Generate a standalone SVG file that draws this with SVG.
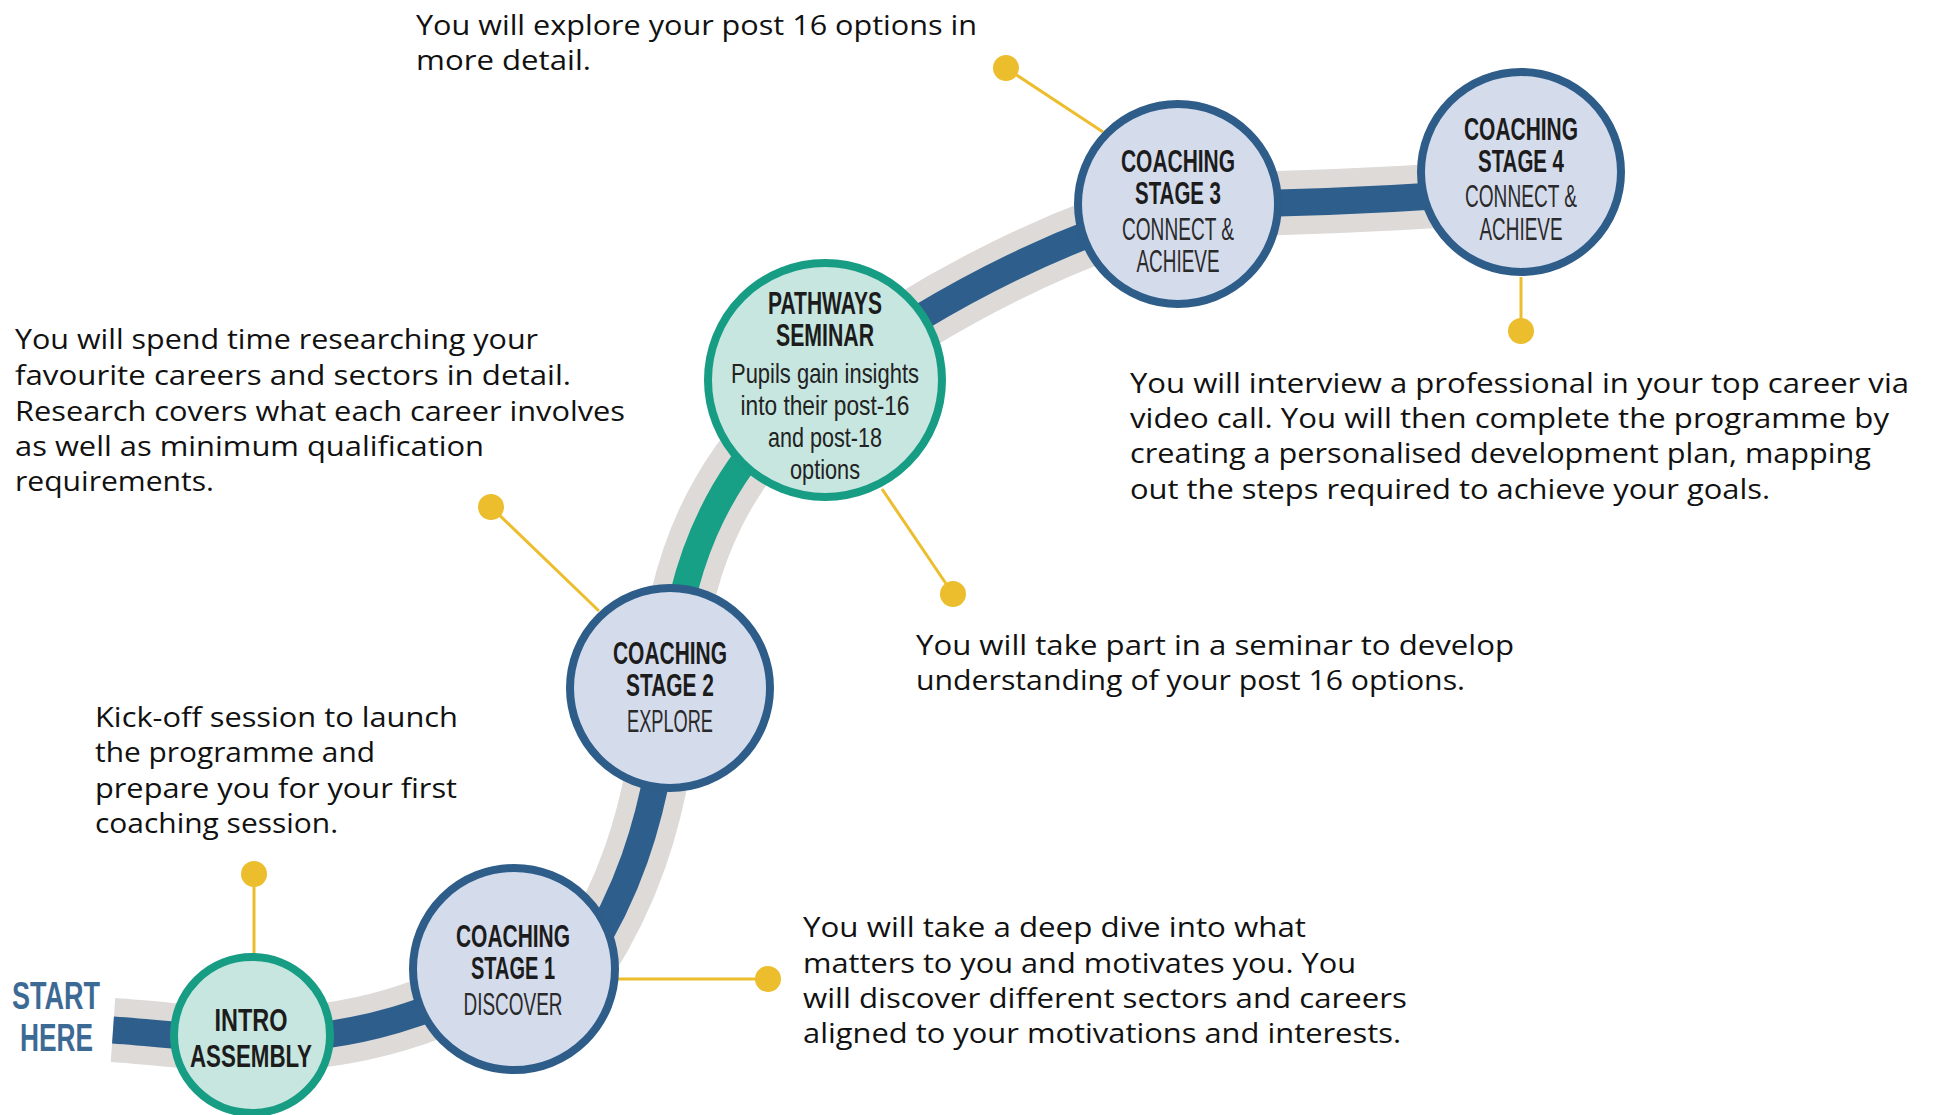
<svg xmlns="http://www.w3.org/2000/svg" width="1936" height="1115" viewBox="0 0 1936 1115">
<style>
.desc{font-family:"Open Sans","Liberation Sans",sans-serif;font-size:27.5px;fill:#111;}
.bold{font-family:"Liberation Sans","DejaVu Sans",sans-serif;font-weight:bold;font-size:31px;fill:#1c1c1c;text-anchor:middle;}
.reg{font-family:"Liberation Sans","DejaVu Sans",sans-serif;font-size:31px;fill:#2a2a2a;text-anchor:middle;}
.small{font-family:"Liberation Sans","DejaVu Sans",sans-serif;font-size:28px;fill:#222;text-anchor:middle;}
.start{font-family:"Liberation Sans","DejaVu Sans",sans-serif;font-weight:bold;font-size:38px;fill:#3d6a95;}
.coach{fill:#d4dbeb;stroke:#2e5d8a;stroke-width:8;}
.teal{fill:#c6e6df;stroke:#189d85;stroke-width:8;}
.lead{stroke:#ecbd2d;stroke-width:3;fill:none;}
.dot{fill:#ecbd2d;}
.road{fill:none;stroke:#dddad8;stroke-width:64;}
.lane{fill:none;stroke:#2d5e8c;stroke-width:27;}
.lane-teal{fill:none;stroke:#17a085;stroke-width:27;}
</style>
<rect width="1936" height="1115" fill="#ffffff"/>
<g id="connectors">
<path class="road" d="M113 1030 C170 1034 210 1040 252 1040 C360 1040 440 1010 514 969"/>
<path class="road" d="M585 960 C620 905 655 830 668 700"/>
<path class="road" d="M670 688 C675 590 705 470 825 380 C930 305 1050 240 1178 204"/>
<path class="road" d="M1178 205 C1300 204 1420 198 1521 190"/>
<path class="lane" d="M113 1030 C170 1034 210 1040 252 1040 C360 1040 440 1010 514 969"/>
<path class="lane" d="M585 960 C620 905 655 830 668 700"/>
<path class="lane" d="M825 380 C930 305 1050 240 1178 204"/>
<path class="lane" d="M1178 205 C1300 204 1420 198 1521 190"/>
<path class="lane-teal" d="M670 688 C675 590 705 470 825 380"/>
<line class="lead" x1="254" y1="874" x2="254" y2="955"/>
<circle class="dot" cx="254" cy="874" r="13"/>
<line class="lead" x1="617" y1="979" x2="768" y2="979"/>
<circle class="dot" cx="768" cy="979" r="13"/>
<line class="lead" x1="599" y1="611" x2="491" y2="507"/>
<circle class="dot" cx="491" cy="507" r="13"/>
<line class="lead" x1="882" y1="489" x2="953" y2="594"/>
<circle class="dot" cx="953" cy="594" r="13"/>
<line class="lead" x1="1103" y1="132" x2="1006" y2="68"/>
<circle class="dot" cx="1006" cy="68" r="13"/>
<line class="lead" x1="1521" y1="277" x2="1521" y2="331"/>
<circle class="dot" cx="1521" cy="331" r="13"/>
</g>
<g id="start-here">
<text class="start" x="12" y="1009" textLength="88" lengthAdjust="spacingAndGlyphs">START</text>
<text class="start" x="20" y="1051" textLength="73" lengthAdjust="spacingAndGlyphs">HERE</text>
</g>
<g id="intro">
<circle class="teal" cx="252" cy="1035" r="78"/>
<text class="bold" x="251" y="1031" font-size="34" textLength="73" lengthAdjust="spacingAndGlyphs">INTRO</text>
<text class="bold" x="251" y="1067" font-size="34" textLength="122" lengthAdjust="spacingAndGlyphs">ASSEMBLY</text>
</g>
<g id="stage1">
<circle class="coach" cx="514" cy="969" r="101"/>
<text class="bold" x="513" y="947" textLength="114" lengthAdjust="spacingAndGlyphs">COACHING</text>
<text class="bold" x="513" y="979" textLength="84" lengthAdjust="spacingAndGlyphs">STAGE 1</text>
<text class="reg" x="513" y="1015" textLength="99" lengthAdjust="spacingAndGlyphs">DISCOVER</text>
</g>
<g id="stage2">
<circle class="coach" cx="670" cy="688" r="100"/>
<text class="bold" x="670" y="664" textLength="114" lengthAdjust="spacingAndGlyphs">COACHING</text>
<text class="bold" x="670" y="696" textLength="88" lengthAdjust="spacingAndGlyphs">STAGE 2</text>
<text class="reg" x="670" y="732" textLength="86" lengthAdjust="spacingAndGlyphs">EXPLORE</text>
</g>
<g id="pathways">
<circle class="teal" cx="825" cy="380" r="117"/>
<text class="bold" x="825" y="314" textLength="114" lengthAdjust="spacingAndGlyphs">PATHWAYS</text>
<text class="bold" x="825" y="346" textLength="98" lengthAdjust="spacingAndGlyphs">SEMINAR</text>
<text class="small" x="825" y="383" textLength="188" lengthAdjust="spacingAndGlyphs">Pupils gain insights</text>
<text class="small" x="825" y="415" textLength="169" lengthAdjust="spacingAndGlyphs">into their post-16</text>
<text class="small" x="825" y="447" textLength="114" lengthAdjust="spacingAndGlyphs">and post-18</text>
<text class="small" x="825" y="479" textLength="70" lengthAdjust="spacingAndGlyphs">options</text>
</g>
<g id="stage3">
<circle class="coach" cx="1178" cy="204" r="100"/>
<text class="bold" x="1178" y="172" textLength="114" lengthAdjust="spacingAndGlyphs">COACHING</text>
<text class="bold" x="1178" y="204" textLength="86" lengthAdjust="spacingAndGlyphs">STAGE 3</text>
<text class="reg" x="1178" y="240" textLength="112" lengthAdjust="spacingAndGlyphs">CONNECT &amp;</text>
<text class="reg" x="1178" y="272" textLength="83" lengthAdjust="spacingAndGlyphs">ACHIEVE</text>
</g>
<g id="stage4">
<circle class="coach" cx="1521" cy="172" r="100"/>
<text class="bold" x="1521" y="140" textLength="114" lengthAdjust="spacingAndGlyphs">COACHING</text>
<text class="bold" x="1521" y="172" textLength="86" lengthAdjust="spacingAndGlyphs">STAGE 4</text>
<text class="reg" x="1521" y="207" textLength="112" lengthAdjust="spacingAndGlyphs">CONNECT &amp;</text>
<text class="reg" x="1521" y="240" textLength="83" lengthAdjust="spacingAndGlyphs">ACHIEVE</text>
</g>
<g id="text-stage3">
<text class="desc" x="416" y="35" textLength="561" lengthAdjust="spacingAndGlyphs">You will explore your post 16 options in</text>
<text class="desc" x="416" y="70" textLength="175" lengthAdjust="spacingAndGlyphs">more detail.</text>
</g>
<g id="text-stage2">
<text class="desc" x="15" y="349" textLength="523" lengthAdjust="spacingAndGlyphs">You will spend time researching your</text>
<text class="desc" x="15" y="385" textLength="556" lengthAdjust="spacingAndGlyphs">favourite careers and sectors in detail.</text>
<text class="desc" x="15" y="421" textLength="610" lengthAdjust="spacingAndGlyphs">Research covers what each career involves</text>
<text class="desc" x="15" y="456" textLength="469" lengthAdjust="spacingAndGlyphs">as well as minimum qualification</text>
<text class="desc" x="15" y="491" textLength="199" lengthAdjust="spacingAndGlyphs">requirements.</text>
</g>
<g id="text-intro">
<text class="desc" x="95" y="727" textLength="363" lengthAdjust="spacingAndGlyphs">Kick-off session to launch</text>
<text class="desc" x="95" y="762" textLength="280" lengthAdjust="spacingAndGlyphs">the programme and</text>
<text class="desc" x="95" y="798" textLength="362" lengthAdjust="spacingAndGlyphs">prepare you for your first</text>
<text class="desc" x="95" y="833" textLength="243" lengthAdjust="spacingAndGlyphs">coaching session.</text>
</g>
<g id="text-stage1">
<text class="desc" x="803" y="937" textLength="503" lengthAdjust="spacingAndGlyphs">You will take a deep dive into what</text>
<text class="desc" x="803" y="973" textLength="553" lengthAdjust="spacingAndGlyphs">matters to you and motivates you. You</text>
<text class="desc" x="803" y="1008" textLength="604" lengthAdjust="spacingAndGlyphs">will discover different sectors and careers</text>
<text class="desc" x="803" y="1043" textLength="598" lengthAdjust="spacingAndGlyphs">aligned to your motivations and interests.</text>
</g>
<g id="text-pathways">
<text class="desc" x="916" y="655" textLength="598" lengthAdjust="spacingAndGlyphs">You will take part in a seminar to develop</text>
<text class="desc" x="916" y="690" textLength="549" lengthAdjust="spacingAndGlyphs">understanding of your post 16 options.</text>
</g>
<g id="text-stage4">
<text class="desc" x="1130" y="393" textLength="779" lengthAdjust="spacingAndGlyphs">You will interview a professional in your top career via</text>
<text class="desc" x="1130" y="428" textLength="759" lengthAdjust="spacingAndGlyphs">video call. You will then complete the programme by</text>
<text class="desc" x="1130" y="463" textLength="741" lengthAdjust="spacingAndGlyphs">creating a personalised development plan, mapping</text>
<text class="desc" x="1130" y="499" textLength="640" lengthAdjust="spacingAndGlyphs">out the steps required to achieve your goals.</text>
</g>
</svg>
